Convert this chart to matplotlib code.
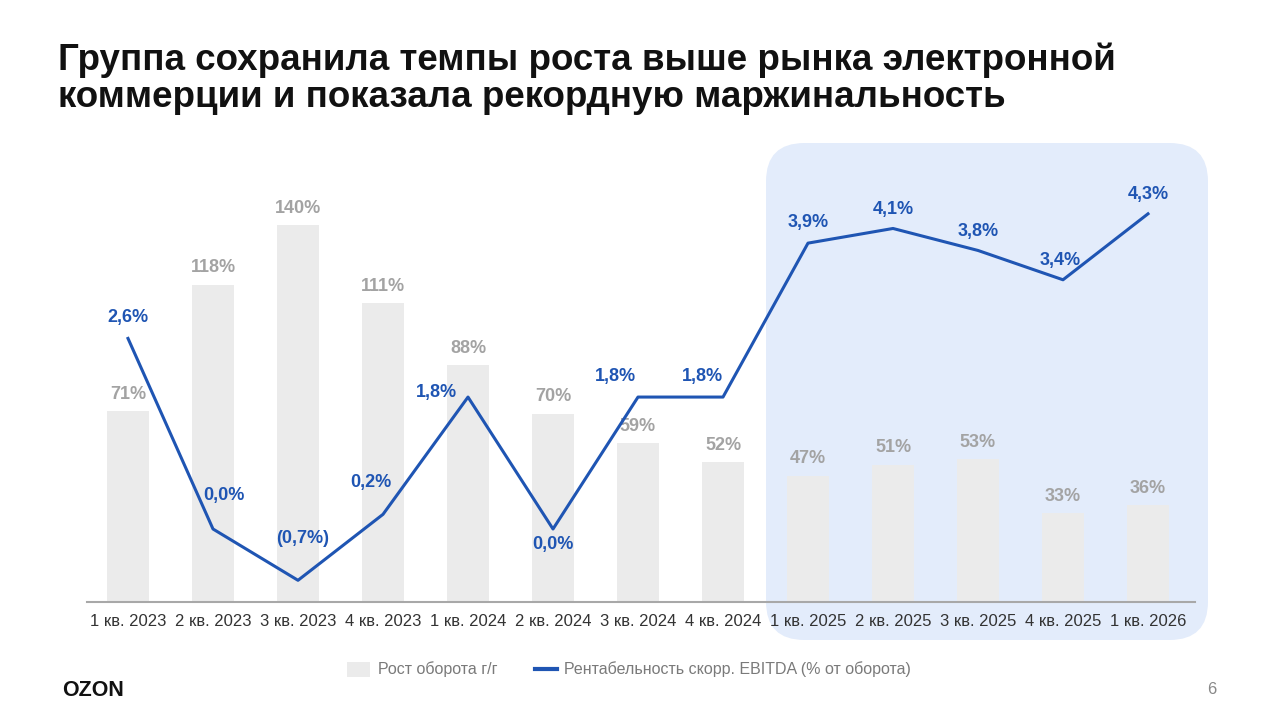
"""
Ozon: рост оборота г/г и рентабельность скорр. EBITDA по кварталам.
"""
import numpy as np
import matplotlib
matplotlib.use("Agg")
import matplotlib.pyplot as plt
from matplotlib.patches import FancyBboxPatch

plt.rcParams["font.family"] = ["Liberation Sans", "DejaVu Sans"]

quarters = ["1 кв. 2023", "2 кв. 2023", "3 кв. 2023", "4 кв. 2023",
            "1 кв. 2024", "2 кв. 2024", "3 кв. 2024", "4 кв. 2024",
            "1 кв. 2025", "2 кв. 2025", "3 кв. 2025", "4 кв. 2025", "1 кв. 2026"]
gmv_growth = [71, 118, 140, 111, 88, 70, 59, 52, 47, 51, 53, 33, 36]
ebitda_margin = [2.6, 0.0, -0.7, 0.2, 1.8, 0.0, 1.8, 1.8, 3.9, 4.1, 3.8, 3.4, 4.3]
ebitda_labels = ["2,6%", "0,0%", "(0,7%)", "0,2%", "1,8%", "0,0%", "1,8%", "1,8%",
                 "3,9%", "4,1%", "3,8%", "3,4%", "4,3%"]

title = ("Группа сохранила темпы роста выше рынка электронной\n"
         "коммерции и показала рекордную маржинальность")
legend_bar = "Рост оборота г/г"
legend_line = "Рентабельность скорр. EBITDA (% от оборота)"

BAR_C = "#ebebeb"
BAR_TXT = "#a3a3a3"
LINE_C = "#1f55b3"
HL_C = "#e3ecfb"

# смещения подписей линии (в пунктах) — только оформление
line_offsets = [(0, 15), (8, 24), (3, 30), (-9, 23), (-23, 3), (0, -11),
                (-16, 15), (-15, 15), (0, 15), (0, 14), (0, 14), (-2, 14), (0, 14)]

W, H = 1280, 724
fig = plt.figure(figsize=(W / 100, H / 100), dpi=100)
fig.patch.set_facecolor("white")

# подсветка 2025–2026
hl = FancyBboxPatch((766 / W, 1 - 640 / H), (1208 - 766) / W, (640 - 143) / H,
                    boxstyle="round,pad=0,rounding_size=0.03",
                    transform=fig.transFigure, facecolor=HL_C, edgecolor="none",
                    zorder=-5, mutation_aspect=W / H)
fig.patches.append(hl)

ax_l, ax_r, ax_b, ax_t = 87, 1195, 602, 150
ax = fig.add_axes([ax_l / W, 1 - ax_b / H, (ax_r - ax_l) / W, (ax_b - ax_t) / H])
ax.set_facecolor("none")
x = np.arange(len(quarters))

# ось x: центры 128 + 85*i
ax.set_xlim((ax_l - 128) / 85, (ax_r - 128) / 85)
ax.set_ylim(0, (ax_b - ax_t) / 2.69)

bars = ax.bar(x, gmv_growth, width=0.5, color=BAR_C, zorder=1)
for xi, v in zip(x, gmv_growth):
    ax.annotate(f"{v}%", (xi, v), xytext=(0, 6), textcoords="offset points",
                ha="center", va="bottom", fontsize=13, fontweight="bold", color=BAR_TXT)

for s in ["top", "right", "left"]:
    ax.spines[s].set_visible(False)
ax.spines["bottom"].set_color("#a8a8a8")
ax.spines["bottom"].set_linewidth(1.5)
ax.set_yticks([])
ax.set_xticks(x)
ax.set_xticklabels(quarters, fontsize=12, color="#333333")
ax.tick_params(axis="x", length=0, pad=9)

ax2 = ax.twinx()
ax2.set_ylim(-(ax_b - 529) / 73.3, (529 - ax_t) / 73.3)
ax2.axis("off")
line, = ax2.plot(x, ebitda_margin, color=LINE_C, lw=2.2, zorder=3)
for xi, v, lab, off in zip(x, ebitda_margin, ebitda_labels, line_offsets):
    ax2.annotate(lab, (xi, v), xytext=off, textcoords="offset points",
                 ha="center", va="center", fontsize=13, fontweight="bold", color=LINE_C)

fig.text(58 / W, 1 - 43 / H, title, ha="left", va="top", fontsize=26.5,
         fontweight="bold", color="#111111", linespacing=1.05)

# легенда
fig.patches.append(plt.Rectangle((347 / W, 1 - 677 / H), 23 / W, 15 / H,
                                 transform=fig.transFigure, facecolor=BAR_C,
                                 edgecolor="none"))
fig.text(378 / W, 1 - 669 / H, legend_bar, ha="left", va="center",
         fontsize=11.5, color="#7a7a7a")
fig.add_artist(plt.Line2D([535 / W, 557 / W], [1 - 669 / H, 1 - 669 / H],
                          transform=fig.transFigure, color=LINE_C, lw=3))
fig.text(564 / W, 1 - 669 / H, legend_line, ha="left", va="center",
         fontsize=11.5, color="#7a7a7a")

fig.text(62 / W, 1 - 690 / H, "OZON", ha="left", va="center", fontsize=15.5,
         fontweight="bold", color="#111111")
fig.text(1216 / W, 1 - 690 / H, "6", ha="right", va="center", fontsize=12,
         color="#888888")

fig.savefig("out.png", dpi=100)
